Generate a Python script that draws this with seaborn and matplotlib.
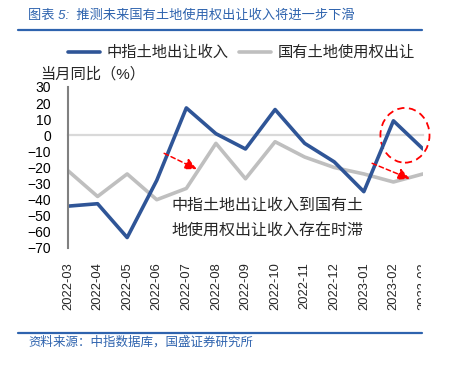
import pandas as pd
import matplotlib
matplotlib.use('Agg')
import matplotlib.pyplot as plt
from matplotlib.patches import Ellipse
from matplotlib.lines import Line2D
from matplotlib.transforms import Bbox, TransformedBbox
import seaborn as sns

# data
months = ['2022-03', '2022-04', '2022-05', '2022-06', '2022-07', '2022-08', '2022-09',
          '2022-10', '2022-11', '2022-12', '2023-01', '2023-02', '2023-03']
zhongzhi = [-44, -42.5, -63.5, -28, 17, 1, -8.5, 16, -5, -16.5, -35, 9, -8.5]
guoyou = [-22, -38, -24, -40, -33, -5, -27, -4, -13.5, -20, -24, -29, -24]
series_names = ['中指土地出让收入', '国有土地使用权出让']
y_ticks = list(range(-70, 31, 10))

title = '图表 5:  推测未来国有土地使用权出让收入将进一步下滑'
source = '资料来源：中指数据库，国盛证券研究所'
ylabel = '当月同比（%）'
note = '中指土地出让收入到国有土\n地使用权出让收入存在时滞'

sns.set_style('white')
plt.rcParams['font.family'] = ['Liberation Sans', 'Noto Sans CJK SC']

df = pd.DataFrame({
    'month': months * 2,
    'value': zhongzhi + guoyou,
    'series': [series_names[0]] * len(months) + [series_names[1]] * len(months),
})
df['x'] = df.groupby('series').cumcount()

blue = '#2F5597'
grey = '#BFBFBF'
palette = {series_names[0]: blue, series_names[1]: grey}

fig = plt.figure(figsize=(4.49, 3.66), dpi=100)
W, H = 449, 366
ax = fig.add_axes([68 / W, 1 - 248 / H, (423 - 68) / W, (248 - 87) / H])

# grey drawn first, blue on top
sns.lineplot(data=df, x='x', y='value', hue='series', palette=palette,
             hue_order=[series_names[1], series_names[0]], linewidth=2.6,
             legend=False, ax=ax)

ax.set_xlim(0, len(months) - 1)
ax.set_ylim(-70, 30)
ax.set_yticks(y_ticks)
ax.set_xlabel('')
ax.set_ylabel('')

# axes styling: x axis running through zero, labels at bottom
for s in ['top', 'right']:
    ax.spines[s].set_visible(False)
ax.spines['left'].set_color('#808080')
ax.spines['left'].set_linewidth(1.5)
ax.spines['bottom'].set_position(('data', 0))
ax.spines['bottom'].set_color('#D9D9D9')
ax.spines['bottom'].set_linewidth(1.6)
ax.spines['bottom'].set_zorder(0.5)
ax.set_xticks(range(len(months)))
ax.tick_params(axis='x', direction='inout', length=9, width=1.2, color='#D9D9D9',
               labelbottom=False)
ax.tick_params(axis='y', direction='in', length=4, width=1.5, color='#808080',
               labelsize=10, pad=12, labelcolor='black')

sec = ax.secondary_xaxis(0)
sec.set_xticks(range(len(months)))
sec.set_xticklabels(months, rotation=90, fontsize=9.3)
sec.tick_params(length=0, pad=10)
sec.spines['bottom'].set_visible(False)
clip = TransformedBbox(Bbox([[0, 0], [421 / W, 1]]), fig.transFigure)
for lab in sec.get_xticklabels():
    lab.set_clip_on(True)
    lab.set_clip_box(clip)

# annotations
arrows = [((3.25, -11.2), (4.35, -21)), ((10.28, -17.4), (11.55, -27))]
for start, end in arrows:
    ax.annotate('', xy=end, xytext=start,
                arrowprops=dict(arrowstyle='-|>,head_length=0.7,head_width=0.35',
                                linestyle=(0, (3, 2)), color='red', lw=1.1,
                                shrinkA=0, shrinkB=0))
ax.add_patch(Ellipse((11.39, 0), 1.66, 34, fill=False, edgecolor='red',
                     linestyle=(0, (4, 2.5)), lw=1.3, clip_on=False))
ax.text(3.5, -51, note, fontsize=11.5, linespacing=1.6, va='center', ha='left',
        family=['Noto Sans CJK SC'])

# legend
handles = [Line2D([], [], color=blue, lw=2.6), Line2D([], [], color=grey, lw=2.6)]
fig.legend(handles, series_names, loc='center left', bbox_to_anchor=(68 / W, 1 - 53 / H),
           ncol=2, frameon=False, fontsize=11, handlelength=2.1, handletextpad=0.45,
           columnspacing=0.65, borderaxespad=0, borderpad=0)

fig.text(40 / W, 1 - 74 / H, ylabel, fontsize=11, va='center', ha='left')

# header / footer
title_color = '#2E63AE'
fig.text(28 / W, 1 - 16 / H, title, fontsize=9.5, color=title_color, va='center',
         ha='left', style='italic')
fig.add_artist(Line2D([18 / W, 422 / W], [1 - 30 / H] * 2, color=title_color, lw=1.6))
fig.add_artist(Line2D([18 / W, 422 / W], [1 - 333 / H] * 2, color=title_color, lw=1.6))
fig.text(28 / W, 1 - 342 / H, source, fontsize=9, color=title_color, va='center',
         ha='left', style='italic')

fig.savefig('out.png', dpi=100)
